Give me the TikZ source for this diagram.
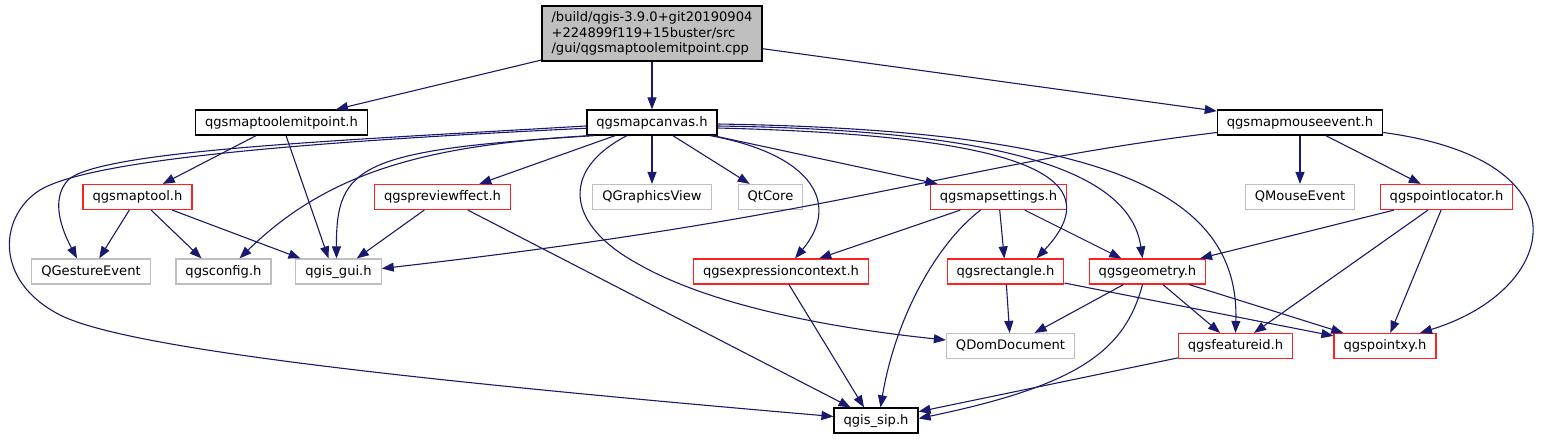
\documentclass[tikz,border=0pt]{standalone}
\usepackage{fontspec}
\setmainfont{DejaVu Sans}
\usepackage{xcolor}
\usepackage{tikz}
\usetikzlibrary{arrows.meta}

\definecolor{edgeblue}{HTML}{191970}
\definecolor{extgray}{HTML}{BFBFBF}
\definecolor{truncred}{HTML}{FF2020}

\begin{document}
\begin{tikzpicture}[
    x=1pt, y=-1pt,
    font=\fontsize{13.1}{15.7}\selectfont,
    >={Triangle[length=12pt, width=9pt]},
    box/.style={draw, line width=1.2pt, fill=white, minimum height=25pt, inner xsep=9.5pt, inner ysep=0pt, text height=10pt, text depth=3pt},
    docbox/.style={box, draw=black},
    redbox/.style={box, draw=truncred},
    extbox/.style={box, draw=extgray},
    srcbox/.style={draw=black, line width=1.2pt, fill=extgray, align=left, minimum width=220pt, minimum height=55pt, inner sep=0pt},
    dep/.style={->, edgeblue, line width=1.1pt}
]
\useasboundingbox (0,0) rectangle (1543,440);

% Nodes
\node[srcbox] (root) at (652,33.5) {/build/qgis-3.9.0+git20190904\\+224899f119+15buster/src\\/gui/qgsmaptoolemitpoint.cpp};

\node[docbox] (emitpoint) at (281.5,122.5) {qgsmaptoolemitpoint.h};
\node[docbox] (mapcanvas) at (652,122.5) {qgsmapcanvas.h};
\node[docbox] (mouseevent) at (1300,122.5) {qgsmapmouseevent.h};

\node[redbox] (maptool) at (137.5,197) {qgsmaptool.h};
\node[redbox] (previeweffect) at (442.5,197) {qgspreviewffect.h};
\node[extbox] (graphicsview) at (652,197) {QGraphicsView};
\node[extbox] (qtcore) at (770.5,197) {QtCore};
\node[redbox] (mapsettings) at (998.5,197) {qgsmapsettings.h};
\node[extbox] (qmouseevent) at (1300,197) {QMouseEvent};
\node[redbox] (pointlocator) at (1446.5,197) {qgspointlocator.h};

\node[extbox] (gestureevent) at (91,271.5) {QGestureEvent};
\node[extbox] (config) at (223.5,271.5) {qgsconfig.h};
\node[extbox] (guih) at (338.5,271.5) {qgis\_gui.h};
\node[redbox] (exprcontext) at (781,271.5) {qgsexpressioncontext.h};
\node[redbox] (rectangle) at (1005.5,271.5) {qgsrectangle.h};
\node[redbox] (geometry) at (1147.5,271.5) {qgsgeometry.h};

\node[extbox] (domdocument) at (1010.5,346) {QDomDocument};
\node[redbox] (featureid) at (1235.5,346) {qgsfeatureid.h};
\node[redbox] (pointxy) at (1385,346) {qgspointxy.h};

\node[docbox] (sip) at (876,420.5) {qgis\_sip.h};

% Arrows
\draw[dep] (root) -- (emitpoint);
\draw[dep] (root) -- (mapcanvas);
\draw[dep] (root) -- (mouseevent);

\draw[dep] (emitpoint) -- (maptool);
\draw[dep] (emitpoint) -- ([xshift=-10pt]guih.north);

\draw[dep] (maptool) -- (gestureevent);
\draw[dep] (maptool) -- ([xshift=-22pt]config.north);
\draw[dep] (maptool) -- ([xshift=-38pt]guih.north);

\draw[dep] (mapcanvas.183) .. controls (350,140) and (100,150) .. (68,180) .. controls (50,200) and (62,230) .. ([xshift=-14pt]gestureevent.north);
\draw[dep] (mapcanvas.185) .. controls (300,142) and (90,160) .. (40,190) .. controls (0,215) and (-8,280) .. (60,315) .. controls (120,345) and (350,375) .. ([yshift=4pt]sip.west);
\draw[dep] ([xshift=4pt]mapcanvas.south west) .. controls (430,145) and (330,170) .. ([xshift=16pt]config.north);
\draw[dep] ([xshift=8pt]mapcanvas.south west) .. controls (360,150) and (336,165) .. ([xshift=-2pt]guih.north);
\draw[dep] (mapcanvas) -- (previeweffect);
\draw[dep] ([xshift=-25pt]mapcanvas.south) .. controls (560,170) and (565,225) .. (640,265) .. controls (720,310) and (850,330) .. ([yshift=6pt]domdocument.west);
\draw[dep] (mapcanvas) -- (graphicsview);
\draw[dep] (mapcanvas) -- (qtcore);
\draw[dep] ([xshift=58pt]mapcanvas.south) .. controls (815,155) and (840,205) .. ([xshift=14pt]exprcontext.north);
\draw[dep] (mapcanvas) -- (mapsettings);
\draw[dep] ([yshift=-5.5pt]mapcanvas.east) .. controls (1000,135) and (1120,170) .. ([xshift=31pt]rectangle.north);
\draw[dep] ([yshift=-3.5pt]mapcanvas.east) .. controls (1000,130) and (1130,170) .. ([xshift=-5pt]geometry.north);
\draw[dep] ([yshift=-1.5pt]mapcanvas.east) .. controls (1100,130) and (1240,190) .. (featureid.north);

\draw[dep] (previeweffect) -- (guih);
\draw[dep] (previeweffect) -- (sip);

\draw[dep] (mapsettings) -- (exprcontext);
\draw[dep] (mapsettings) -- (rectangle);
\draw[dep] (mapsettings) -- (geometry);
\draw[dep] ([xshift=-18pt]mapsettings.south) .. controls (935,245) and (895,320) .. ([xshift=4.5pt]sip.north);

\draw[dep] (exprcontext) -- ([xshift=-12pt]sip.north);

\draw[dep] (rectangle) -- (domdocument);
\draw[dep] (rectangle) -- (pointxy);

\draw[dep] (geometry) -- (domdocument);
\draw[dep] (geometry) -- (featureid);
\draw[dep] (geometry) -- (pointxy);
\draw[dep] ([xshift=-5pt]geometry.south) .. controls (1125,350) and (1080,385) .. ([yshift=2pt]sip.east);

\draw[dep] (featureid) -- (sip);

\draw[dep] ([yshift=-10pt]mouseevent.west) .. controls (950,165) and (850,215) .. ([yshift=3pt]guih.east);
\draw[dep] (mouseevent) -- (qmouseevent);
\draw[dep] (mouseevent) -- (pointlocator);
\draw[dep] ([yshift=-10pt]mouseevent.east) .. controls (1590,160) and (1560,290) .. ([xshift=35pt]pointxy.north);

\draw[dep] (pointlocator) -- (geometry);
\draw[dep] (pointlocator) -- (featureid);
\draw[dep] (pointlocator) -- (pointxy);

\end{tikzpicture}
\end{document}
